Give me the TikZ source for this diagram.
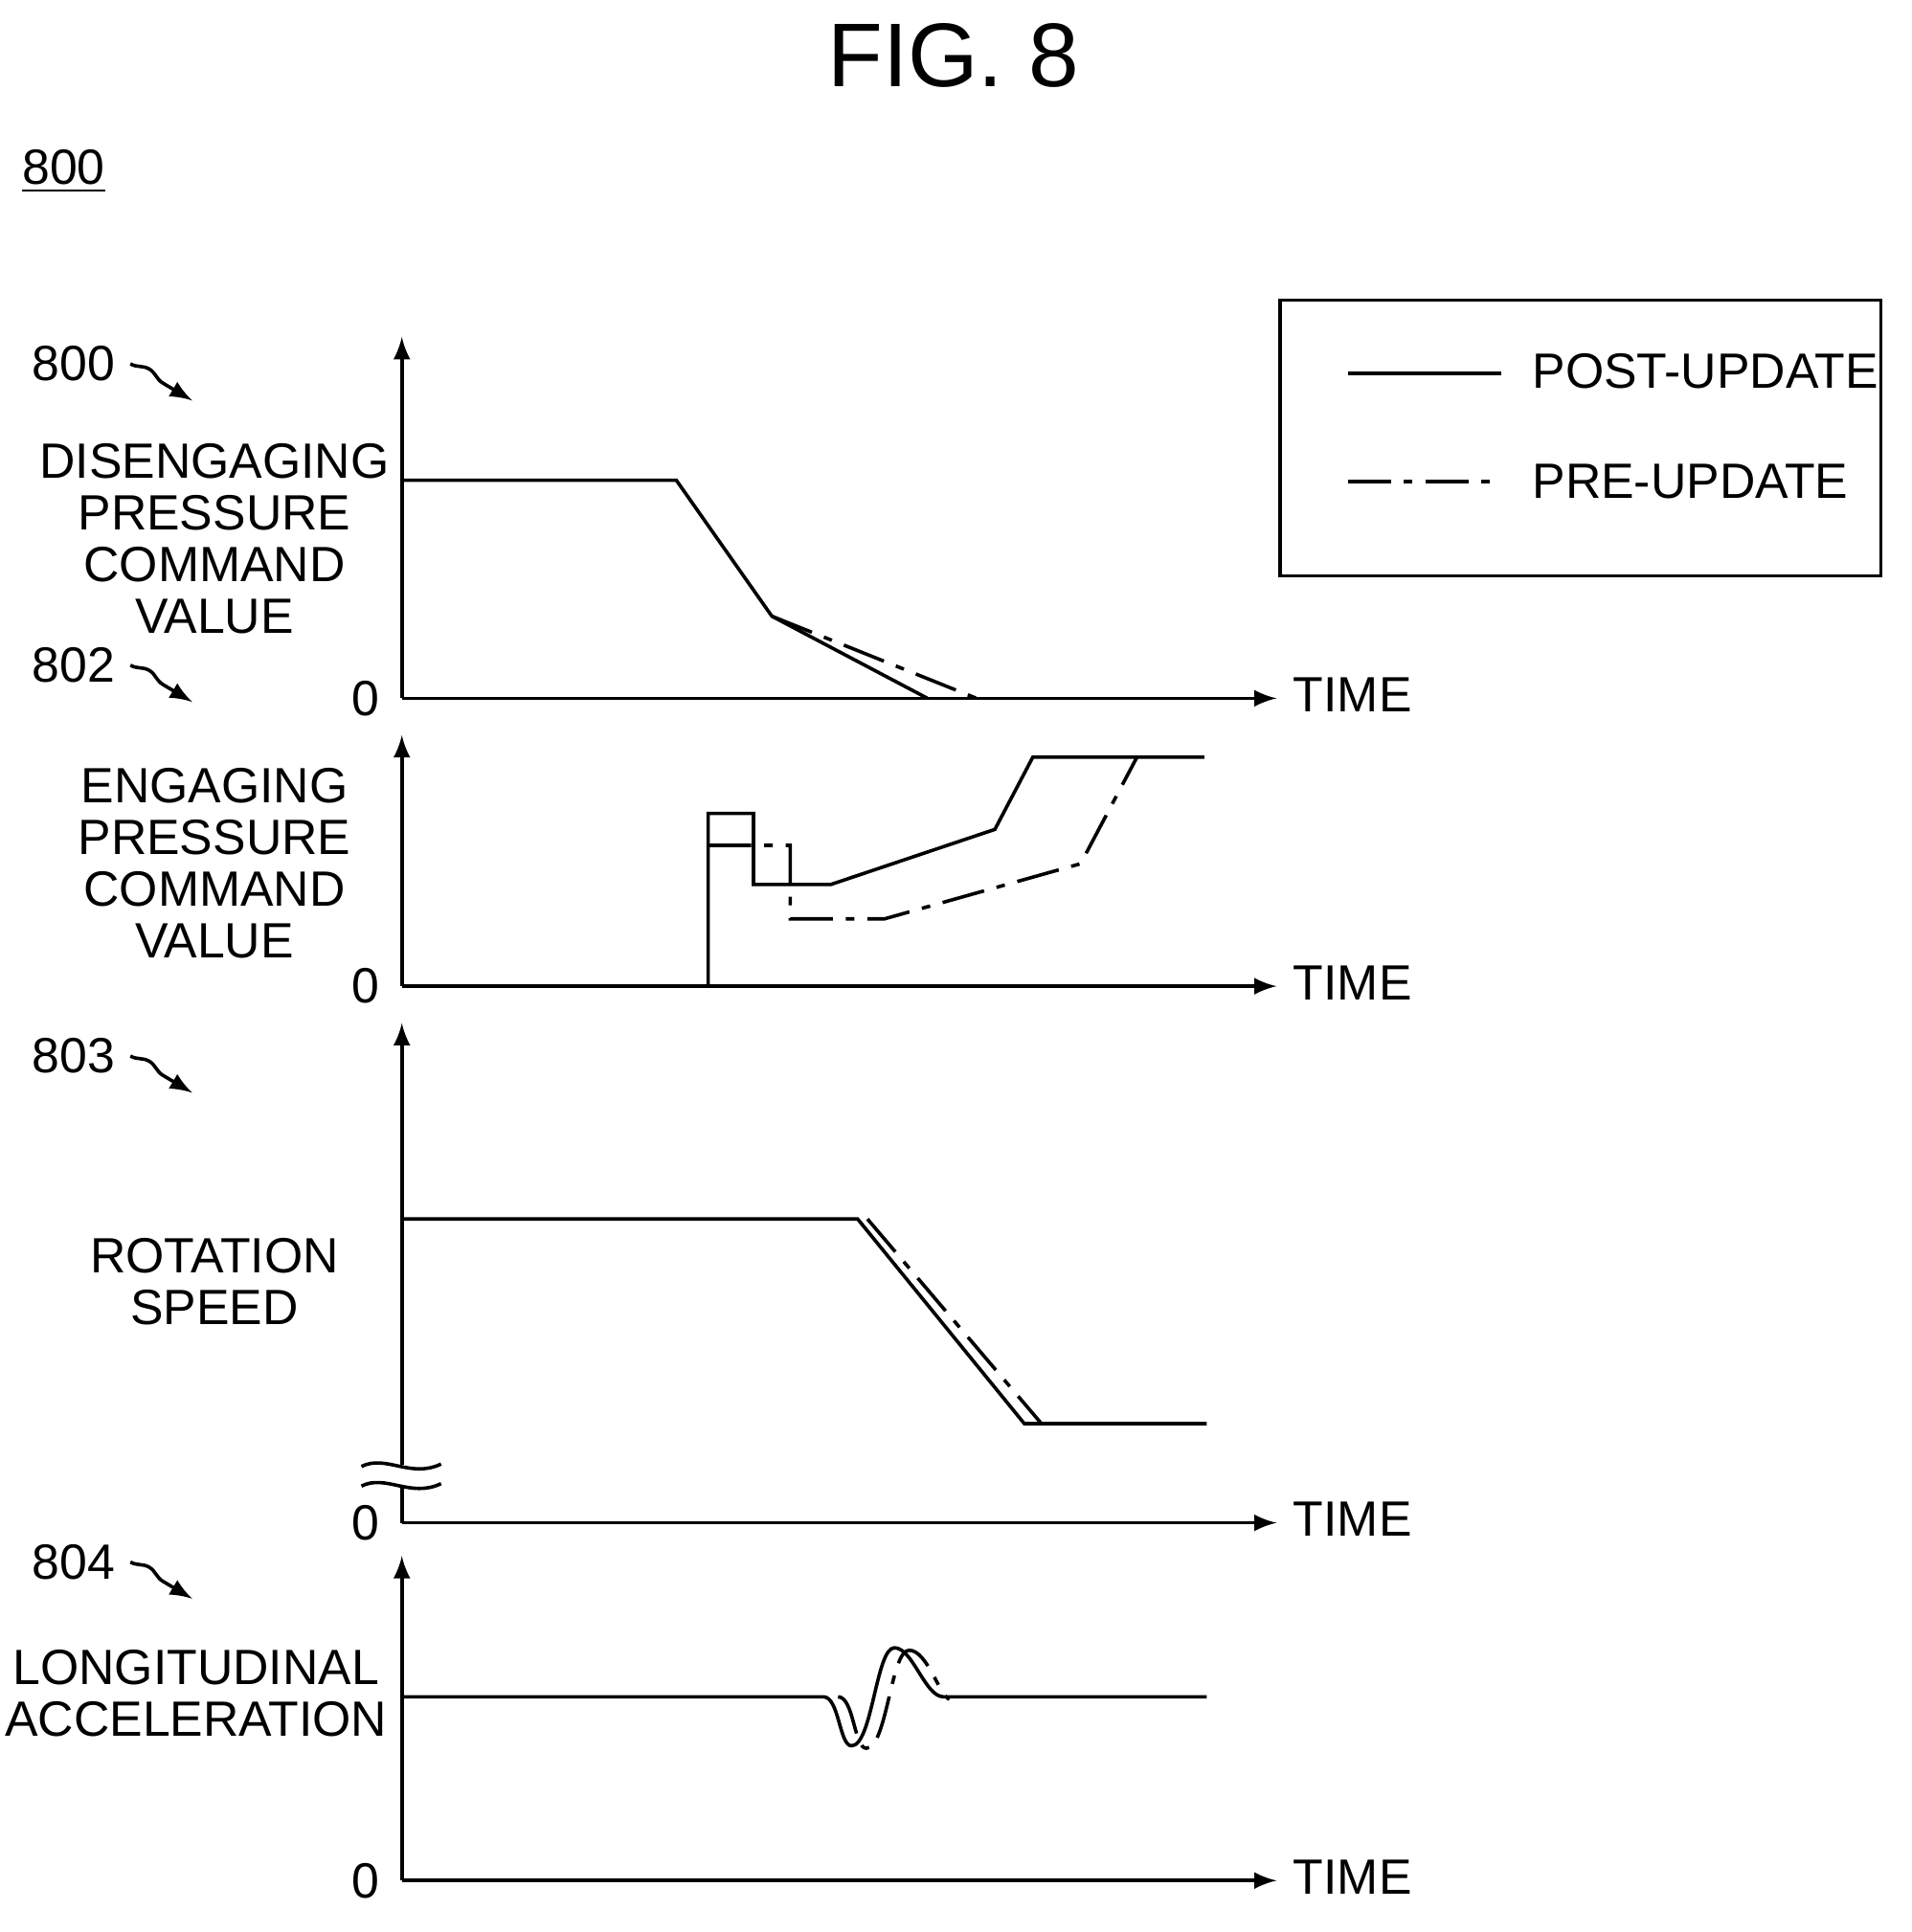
\documentclass[tikz,border=0pt]{standalone}
\usepackage{fontspec}
\setmainfont{Liberation Sans}
\usetikzlibrary{calc,decorations.pathmorphing}
\tikzset{
  ax/.style={thick,-latex},
  post/.style={thick},
  pre/.style={thick,dash pattern=on 10pt off 3pt on 2pt off 3pt},
  lbl/.style={font=\fontsize{11.5}{12}\selectfont,align=center,inner sep=0pt},
  ref/.style={-latex,thick,decorate,decoration={snake,amplitude=1.2pt,segment length=14pt,post length=4pt}}
}
\begin{document}
\begin{tikzpicture}[x=0.01cm,y=-0.01cm]
  \useasboundingbox (0,0) rectangle (1560,1577);
  \node[lbl,font=\fontsize{21}{24}\selectfont] (title) at (778,45) {FIG. 8};
  \node[lbl] (fig) at (52,140) {\underline{800}};

  % axes
  \foreach \n/\yz/\yt in {a/570/275, b/805/600, c/1243/835, d/1535/1270} {
    \coordinate (o\n) at (328,\yz);
    \coordinate (y\n) at (328,\yt);
    \coordinate (x\n) at (1042,\yz);
    \draw[ax] (o\n) -- (y\n);
    \draw[ax] (o\n) -- (x\n);
    \node[lbl,anchor=east] (z\n) at (310,\yz) {0};
    \node[lbl,anchor=west] (t\n) at (1055,\yz-3) {TIME};
  }

  % reference numerals
  \foreach \n/\y in {800/297, 802/543, 803/862, 804/1275} {
    \node[lbl] (r\n) at (60,\y) {\n};
    \coordinate (e\n) at (157,\y+30);
    \draw[ref] ($(r\n.east)+(12,0)$) -- (e\n);
  }

  % axis labels
  \node[lbl] (la) at (175,440) {DISENGAGING\\PRESSURE\\COMMAND\\VALUE};
  \node[lbl] (lb) at (175,705) {ENGAGING\\PRESSURE\\COMMAND\\VALUE};
  \node[lbl] (lc) at (175,1046) {ROTATION\\SPEED};
  \node[lbl] (ld) at (160,1382) {LONGITUDINAL\\ACCELERATION};

  % disengaging pressure
  \draw[post] (328,392) -- (552,392) -- (630,503) -- (757,570);
  \draw[pre] (630,503) -- (797,570);

  % engaging pressure
  \draw[post] (578,805) -- (578,664) -- (615,664) -- (615,722) -- (678,722)
    -- (812,677) -- (843,618) -- (983,618);
  \draw[pre] (578,690) -- (645,690) -- (645,750) -- (722,750) -- (882,705) -- (928,618);

  % rotation speed
  \draw[post] (328,995) -- (700,995) -- (836,1162) -- (985,1162);
  \draw[pre] (708,995) -- (850,1162);
  \fill[white] (318,1196) rectangle (338,1212);
  \draw[thick] (295,1197) .. controls (315,1187) and (335,1207) .. (360,1195);
  \draw[thick] (295,1213) .. controls (315,1203) and (335,1223) .. (360,1211);

  % longitudinal acceleration
  \draw[post] (328,1385) -- (672,1385) .. controls (685,1385) and (685,1425) .. (695,1425)
    .. controls (712,1425) and (715,1345) .. (730,1345)
    .. controls (745,1345) and (755,1385) .. (770,1385) -- (985,1385);
  \draw[pre] (684,1385) .. controls (697,1385) and (697,1427) .. (707,1427)
    .. controls (724,1427) and (727,1347) .. (742,1347)
    .. controls (757,1347) and (767,1385) .. (775,1387);

  % legend
  \coordinate (lega) at (1045,245);
  \coordinate (legb) at (1535,470);
  \draw[thick] (lega) rectangle (legb);
  \coordinate (pa) at (1100,305);
  \coordinate (pb) at (1225,305);
  \coordinate (qa) at (1100,393);
  \coordinate (qb) at (1225,393);
  \draw[post] (pa) -- (pb);
  \draw[pre] (qa) -- (qb);
  \node[lbl,anchor=west] (lp) at (1250,303) {POST-UPDATE};
  \node[lbl,anchor=west] (lq) at (1250,393) {PRE-UPDATE};
\end{tikzpicture}
\end{document}
